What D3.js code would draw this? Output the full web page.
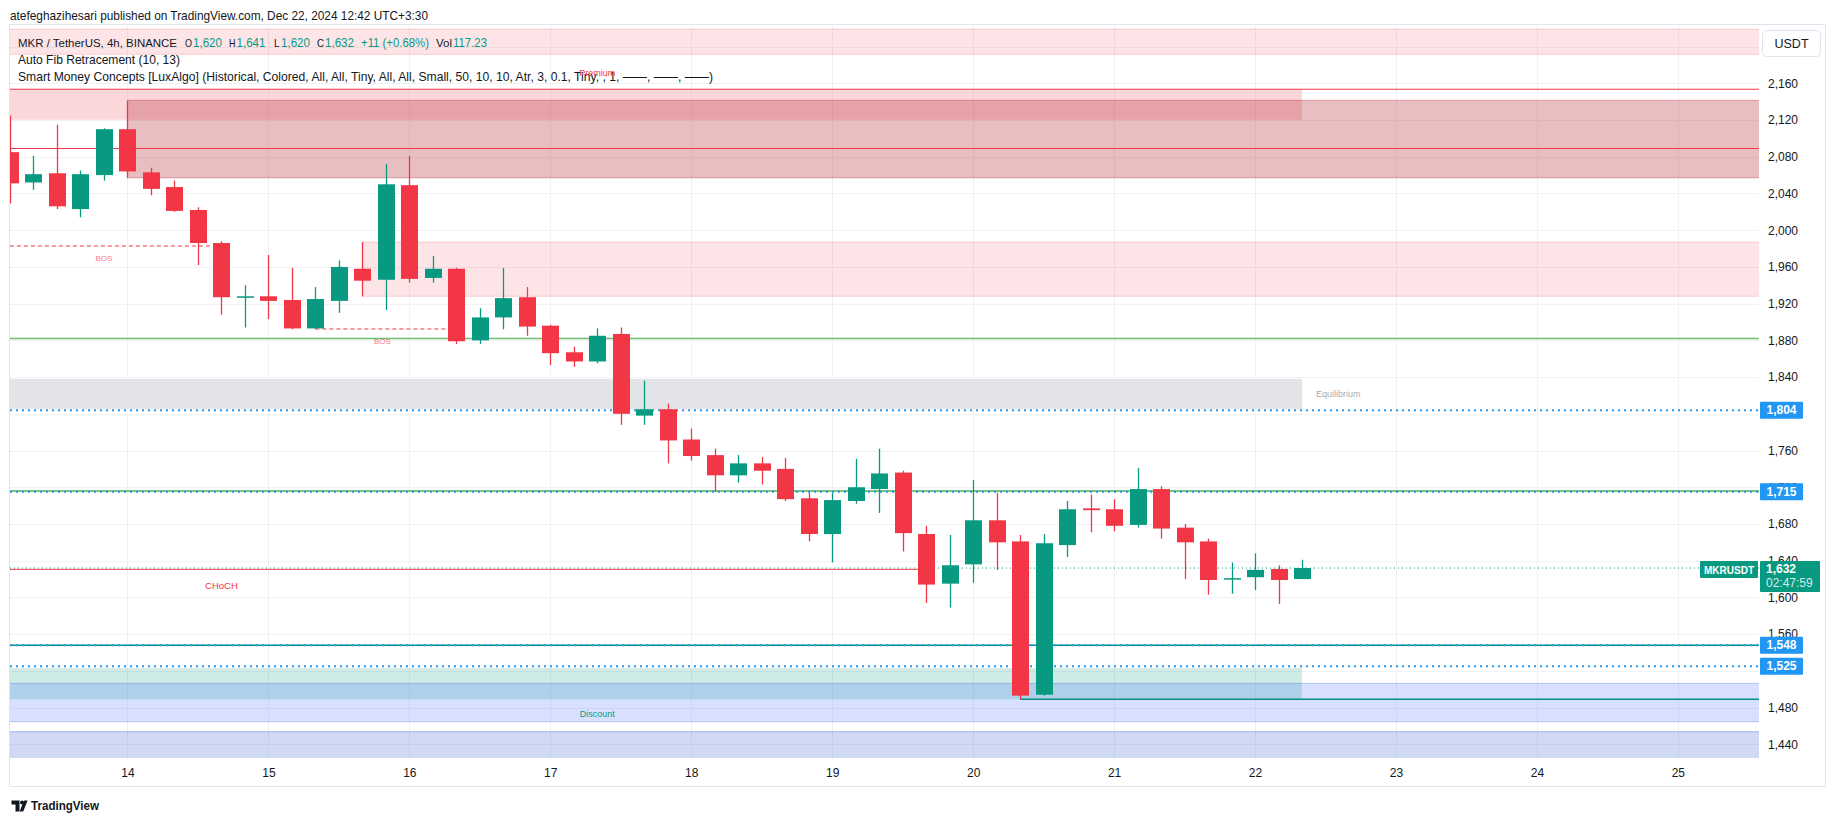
<!DOCTYPE html>
<html>
<head>
<meta charset="utf-8">
<script src="https://cdn.jsdelivr.net/npm/d3@7/dist/d3.min.js"></script>
<style>
html,body{margin:0;padding:0;background:#ffffff;}
svg{display:block;}
text{font-family:"Liberation Sans", Arial, sans-serif;}
</style>
</head>
<body>
<svg id="chart" width="1835" height="821"></svg>
<script>
// ================= DATA =================
// 4h bars of MKR/USDT (Binance); bar 0 = 2024-12-13 04:00 UTC
const firstBarUTC = Date.UTC(2024, 11, 13, 4, 0);
const barOpen  = [2085,2052,2062,2023,2060,2110,2063,2047,2022,1986,1927,1928,1924,1893,1923,1958,1946,2049,1948,1958,1880,1905,1927,1896,1867,1857,1887,1798,1805,1772,1755,1733,1746,1740,1708,1669,1705,1718,1736,1669,1615,1636,1684,1661,1494,1657,1697,1696,1679,1718,1676,1661,1620,1622,1631,1620];
const barHigh  = [2125,2081,2115,2065,2111,2141,2068,2054,2025,1988,1940,1973,1959,1938,1967,1987,2072,2081,1972,1959,1915,1959,1938,1897,1873,1893,1894,1836,1811,1784,1762,1755,1753,1752,1714,1714,1751,1762,1738,1678,1668,1728,1714,1668,1669,1705,1712,1707,1741,1721,1680,1664,1638,1648,1635,1641];
const barLow   = [2029,2044,2023,2014,2054,2057,2038,2020,1962,1908,1894,1903,1892,1892,1910,1928,1913,1943,1943,1876,1876,1892,1885,1853,1851,1855,1788,1788,1746,1749,1715,1725,1723,1705,1661,1638,1702,1692,1650,1594,1589,1616,1630,1489,1493,1644,1671,1672,1676,1664,1620,1603,1604,1608,1593,1620];
const barClose = [2051,2061,2026,2061,2110,2064,2045,2021,1986,1927,1928,1923,1893,1925,1960,1945,2050,1947,1958,1879,1905,1926,1895,1866,1857,1885,1800,1805,1771,1754,1733,1746,1738,1707,1669,1706,1720,1735,1670,1614,1635,1684,1660,1493,1659,1696,1695,1678,1718,1675,1660,1619,1621,1630,1619,1632];

const gridPrices = [2200,2160,2120,2080,2040,2000,1960,1920,1880,1840,1800,1760,1720,1680,1640,1600,1560,1520,1480,1440];
const priceTicks = [2160,2120,2080,2040,2000,1960,1920,1880,1840,1760,1720,1680,1640,1600,1560,1480,1440];
const dayTicks = [14,15,16,17,18,19,20,21,22,23,24,25];

// zones (order blocks / premium-discount), bar indices for extent
const zoneKind   = ["bearLight","premium","bearStrong","bearLight","equilibrium","discount","bullLight","bullStrong"];
const zoneTop    = [2219, 2153.5, 2141.5, 1987, 1838, 1523, 1506.4, 1453.7];
const zoneBottom = [2191.6, 2120.3, 2057, 1928, 1805, 1489, 1464.6, 1380];
const zoneFrom   = [-10, -10, 5, 15, -10, -10, -10, -10];
const zoneTo     = [80, 55, 80, 80, 55, 55, 80, 80];

// horizontal levels
const levelKind  = ["red","red","lightGreen","green","teal","teal"];
const levelValue = [2153.5, 2089, 1882, 1716, 1548, 1489];
const levelFrom  = [-10, -10, -10, -10, -10, 43];
const levelTo    = [80, 80, 80, 80, 80, 80];

// dotted alert lines with axis tags
const markerPrices = [1804, 1715, 1548, 1525];

// market structure
const structLabel = ["BOS","BOS","CHoCH"];
const structPrice = [1982.8, 1892.4, 1630.6];
const structFrom  = [-0.6, 13, -20.7];
const structTo    = [8.6, 18.7, 38.7];

// zone labels
const zoneLabelText = ["Premium","Equilibrium","Discount"];
const zoneLabelBar  = [25, 55.6, 25];
const zoneLabelPrice= [2153.5, 1821.5, 1489];

const lastPrice = 1632;
const lastChange = "+11 (+0.68%)";
const lastVolume = "117.23";
const countdown = "02:47:59";
const symbolName = "MKRUSDT";

// ================= LAYOUT =================
const H4 = 4*3600*1000;
const svg = d3.select("#chart");
const P = {l:10, r:1759, t:24, b:758};
const frame = {l:9, r:1825, t:24, b:786};

const x = d3.scaleUtc()
  .domain([new Date(Date.UTC(2024,11,13,4,0)), new Date(Date.UTC(2024,11,25,13,49))])
  .range([P.l, P.r]);
const y = d3.scaleLinear().domain([2160,1440]).range([83.3,744.3]);
const bx = i => x(new Date(firstBarUTC + i*H4));

const C = {red:"#f23645", green:"#089981", text:"#131722", grid:"#eff1f5", blue:"#2196f3"};

svg.append("rect").attr("width",1835).attr("height",821).attr("fill","#fff");

// frame
svg.append("rect").attr("x",frame.l+0.5).attr("y",frame.t+0.5)
  .attr("width",frame.r-frame.l).attr("height",frame.b-frame.t)
  .attr("fill","none").attr("stroke","#e0e3eb").attr("stroke-width",1);

svg.append("defs").append("clipPath").attr("id","pc").append("rect")
  .attr("x",P.l).attr("y",P.t).attr("width",P.r-P.l).attr("height",P.b-P.t);
const g = svg.append("g").attr("clip-path","url(#pc)");

// grid
const dayDates = dayTicks.map(d => new Date(Date.UTC(2024,11,d)));
g.selectAll(".hg").data(gridPrices).join("line")
  .attr("x1",P.l).attr("x2",P.r).attr("y1",d=>Math.round(y(d))+0.5).attr("y2",d=>Math.round(y(d))+0.5)
  .attr("stroke",C.grid).attr("stroke-width",1);
g.selectAll(".vg").data(dayDates).join("line")
  .attr("y1",P.t).attr("y2",P.b).attr("x1",d=>Math.round(x(d))+0.5).attr("x2",d=>Math.round(x(d))+0.5)
  .attr("stroke",C.grid).attr("stroke-width",1);

// zones
const zoneStyle = {
  bearLight:  {fill:"rgba(242,54,69,0.13)", stroke:"rgba(242,54,69,0.22)"},
  premium:    {fill:"rgba(242,54,69,0.2)", stroke:"none"},
  bearStrong: {fill:"rgba(178,40,51,0.3)", stroke:"rgba(178,40,51,0.35)"},
  equilibrium:{fill:"#e3e4e7", stroke:"none"},
  discount:   {fill:"rgba(8,153,129,0.2)", stroke:"none"},
  bullLight:  {fill:"rgba(41,98,255,0.19)", stroke:"rgba(24,72,204,0.25)"},
  bullStrong: {fill:"rgba(24,72,204,0.2)", stroke:"rgba(24,72,204,0.35)"}
};
const zones = zoneKind.map((k,i)=>({k, top:zoneTop[i], bot:zoneBottom[i], f:zoneFrom[i], t:zoneTo[i]}));
g.selectAll(".zone").data(zones).join("rect")
  .attr("x",d=>bx(d.f)).attr("width",d=>bx(d.t)-bx(d.f))
  .attr("y",d=>y(d.top)).attr("height",d=>y(d.bot)-y(d.top))
  .attr("fill",d=>zoneStyle[d.k].fill)
  .attr("stroke",d=>zoneStyle[d.k].stroke).attr("stroke-width",1);

// levels
const levelStyle = {red:{c:C.red,w:1.2}, lightGreen:{c:"#6cc070",w:1.5}, green:{c:"#4caf50",w:1.5}, teal:{c:"#0a8f85",w:1.5}};
const levels = levelKind.map((k,i)=>({k, v:levelValue[i], f:levelFrom[i], t:levelTo[i]}));
g.selectAll(".lvl").data(levels).join("line")
  .attr("x1",d=>bx(d.f)).attr("x2",d=>bx(d.t))
  .attr("y1",d=>y(d.v)).attr("y2",d=>y(d.v))
  .attr("stroke",d=>levelStyle[d.k].c).attr("stroke-width",d=>levelStyle[d.k].w);

// blue dotted markers
g.selectAll(".mk").data(markerPrices).join("line")
  .attr("x1",P.l).attr("x2",P.r).attr("y1",d=>y(d)).attr("y2",d=>y(d))
  .attr("stroke",C.blue).attr("stroke-width",2).attr("stroke-dasharray","2 4");

// current price line
g.append("line").attr("x1",P.l).attr("x2",P.r).attr("y1",y(lastPrice)).attr("y2",y(lastPrice))
  .attr("stroke",C.green).attr("stroke-width",1).attr("stroke-dasharray","1 3");

// structure lines
const structs = structLabel.map((l,i)=>({l, v:structPrice[i], f:structFrom[i], t:structTo[i]}));
g.selectAll(".st").data(structs).join("line")
  .attr("x1",d=>bx(d.f)).attr("x2",d=>bx(d.t))
  .attr("y1",d=>y(d.v)).attr("y2",d=>y(d.v))
  .attr("stroke",C.red).attr("stroke-width",1)
  .attr("stroke-dasharray",d=>d.l==="BOS"?"4 3":null);

// candles
const bars = barOpen.map((o,i)=>({i, o, h:barHigh[i], l:barLow[i], c:barClose[i]}));
g.selectAll(".wick").data(bars).join("line")
  .attr("x1",d=>Math.round(bx(d.i))+0.5).attr("x2",d=>Math.round(bx(d.i))+0.5)
  .attr("y1",d=>y(d.h)).attr("y2",d=>y(d.l))
  .attr("stroke",d=>d.c>=d.o?C.green:C.red).attr("stroke-width",1.3);
g.selectAll(".body").data(bars).join("rect")
  .attr("x",d=>Math.round(bx(d.i))-8).attr("width",17)
  .attr("y",d=>y(Math.max(d.o,d.c)))
  .attr("height",d=>Math.max(1.5, Math.abs(y(d.o)-y(d.c))))
  .attr("fill",d=>d.c>=d.o?C.green:C.red);

// structure labels
g.selectAll(".stl").data(structs).join("text")
  .attr("x",d=>(bx(d.f)+bx(d.t))/2)
  .attr("y",d=>y(d.v)+(d.l==="BOS"?12:16))
  .attr("dy","0.35em").attr("text-anchor","middle")
  .attr("font-size",d=>d.l==="BOS"?8:9.5)
  .attr("fill",d=>d.l==="BOS"?"rgba(242,54,69,0.7)":C.red)
  .text(d=>d.l);

// zone labels (Premium drawn later, above the legend)
const zl = zoneLabelText.map((t,i)=>({t, b:zoneLabelBar[i], v:zoneLabelPrice[i]})).filter(d=>d.t!=="Premium");
svg.selectAll(".zl").data(zl).join("text")
  .attr("x",d=>bx(d.b))
  .attr("y",d=>y(d.v)+(d.t==="Discount"?15:0))
  .attr("dy","0.35em")
  .attr("text-anchor",d=>d.t==="Equilibrium"?"start":"middle")
  .attr("font-size",9)
  .attr("fill",d=>d.t==="Discount"?C.green:"#a8abb5")
  .text(d=>d.t);

// ===== axes =====
const yAxis = d3.axisRight(y).tickValues(priceTicks).tickFormat(d3.format(",")).tickSize(0).tickPadding(9);
const ya = svg.append("g").attr("transform",`translate(${P.r},0)`).call(yAxis);
ya.select(".domain").remove();
ya.selectAll("text").attr("font-size",12).attr("fill",C.text).attr("font-family","Liberation Sans, Arial, sans-serif");

const xAxis = d3.axisBottom(x).tickValues(dayDates).tickFormat(d3.utcFormat("%-d")).tickSize(0).tickPadding(10);
const xa = svg.append("g").attr("transform",`translate(0,${P.b})`).call(xAxis);
xa.select(".domain").remove();
xa.selectAll("text").attr("font-size",12).attr("fill",C.text).attr("font-family","Liberation Sans, Arial, sans-serif");

// USDT box
svg.append("rect").attr("x",1762.5).attr("y",30.5).attr("width",58).attr("height",26).attr("rx",4)
  .attr("fill","#fff").attr("stroke","#e0e3eb");
svg.append("text").attr("x",1791.5).attr("y",44).attr("dy","0.35em").attr("text-anchor","middle")
  .attr("font-size",12.5).attr("fill",C.text).text("USDT");

// marker tags
const fmt = d3.format(",");
const tags = svg.selectAll(".tag").data(markerPrices).join("g")
  .attr("transform",d=>`translate(1760,${y(d)})`);
tags.append("rect").attr("x",0).attr("y",-8.5).attr("width",43).attr("height",17).attr("rx",1).attr("fill",C.blue);
tags.append("text").attr("x",21.5).attr("y",0).attr("dy","0.35em").attr("text-anchor","middle")
  .attr("font-size",12).attr("font-weight","bold").attr("fill","#fff").text(d=>fmt(d));

// last price tag
const ly = y(lastPrice);
svg.append("rect").attr("x",1760).attr("y",ly-7).attr("width",60).attr("height",31).attr("rx",1).attr("fill",C.green);
svg.append("text").attr("x",1766).attr("y",ly+1).attr("dy","0.35em").attr("font-size",12).attr("font-weight","bold")
  .attr("fill","#fff").text(fmt(lastPrice));
svg.append("text").attr("x",1766).attr("y",ly+15).attr("dy","0.35em").attr("font-size",12)
  .attr("fill","rgba(255,255,255,0.85)").text(countdown);
svg.append("rect").attr("x",1700).attr("y",ly-7).attr("width",58).attr("height",17).attr("rx",1).attr("fill",C.green);
svg.append("text").attr("x",1729).attr("y",ly+1.5).attr("dy","0.35em").attr("text-anchor","middle")
  .attr("font-size",11.5).attr("font-weight","bold").attr("fill","#fff")
  .attr("textLength",50).attr("lengthAdjust","spacingAndGlyphs").text(symbolName);

// ===== header =====
svg.append("text").attr("x",10).attr("y",15).attr("dy","0.35em").attr("font-size",13).attr("fill",C.text)
  .attr("textLength",418).attr("lengthAdjust","spacingAndGlyphs")
  .text("atefeghazihesari published on TradingView.com, Dec 22, 2024 12:42 UTC+3:30");

const last = bars[bars.length-1];
// legend segments: [text, colour, x, width, font size]
const segs = [
  ["MKR / TetherUS, 4h, BINANCE", C.text, 18, 159, 11.5],
  ["O", C.text, 185, 7, 11.5], [fmt(last.o), C.green, 193, 29, 12],
  ["H", C.text, 229, 6.5, 11.5], [fmt(last.h), C.green, 236.5, 29, 12],
  ["L", C.text, 274, 5.5, 11.5],   [fmt(last.l), C.green, 281, 29, 12],
  ["C", C.text, 317, 7, 11.5],   [fmt(last.c), C.green, 325, 29, 12],
  [lastChange, C.green, 361, 68, 12],
  ["Vol", C.text, 436, 16, 11.5], [lastVolume, C.green, 453, 34, 12]];
const lg = svg.append("g");
segs.forEach(s=>{
  lg.append("text").attr("x",s[2]).attr("y",42.5).attr("dy","0.35em").attr("font-size",s[4])
    .attr("fill",s[1]).attr("textLength",s[3]).attr("lengthAdjust","spacingAndGlyphs").text(s[0]);
});

svg.append("text").attr("x",18).attr("y",59.5).attr("dy","0.35em").attr("font-size",13).attr("fill",C.text)
  .attr("textLength",162).attr("lengthAdjust","spacingAndGlyphs").text("Auto Fib Retracement (10, 13)");
svg.append("text").attr("x",18).attr("y",76.5).attr("dy","0.35em").attr("font-size",13).attr("fill",C.text)
  .attr("textLength",695).attr("lengthAdjust","spacingAndGlyphs")
  .text("Smart Money Concepts [LuxAlgo] (Historical, Colored, All, All, Tiny, All, All, Small, 50, 10, 10, Atr, 3, 0.1, Tiny, , 1, \u2014\u2014, \u2014\u2014, \u2014\u2014)");

// Premium label on top of legend (as in the source)
svg.append("text").attr("x",bx(zoneLabelBar[0])).attr("y",y(zoneLabelPrice[0])-16).attr("dy","0.35em")
  .attr("text-anchor","middle").attr("font-size",9).attr("fill",C.red).text(zoneLabelText[0]);

// ===== footer logo =====
const logo = svg.append("g").attr("fill","#131722");
logo.append("path").attr("d","M11.5 800.5 h8 v11 h-4 v-7 h-4 z");
logo.append("circle").attr("cx",22).attr("cy",802.5).attr("r",2);
logo.append("path").attr("d","M24 800.5 h3.6 l-4.4 11 h-3.6 z");
svg.append("text").attr("x",31).attr("y",806).attr("dy","0.35em").attr("font-size",12.5).attr("font-weight","bold")
  .attr("fill","#131722").attr("textLength",68).attr("lengthAdjust","spacingAndGlyphs").text("TradingView");
</script>
</body>
</html>
